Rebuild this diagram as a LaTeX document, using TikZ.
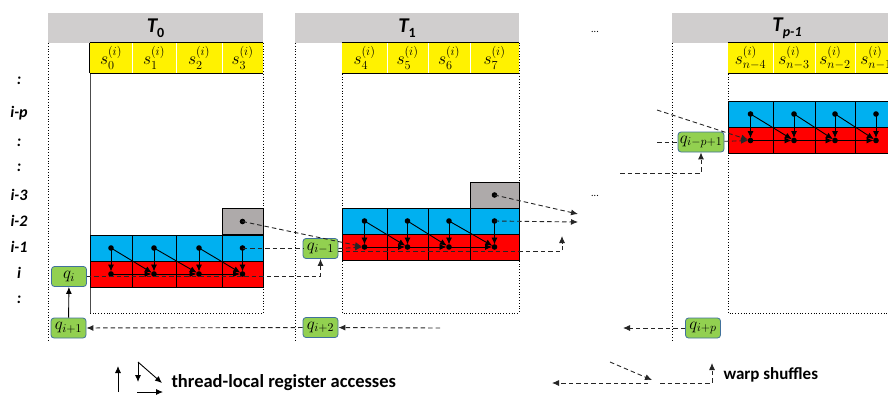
\RequirePackage{fix-cm}
\documentclass[tikz,border=0pt]{standalone}
\usepackage{fontspec}
\setmainfont{Carlito}
\usepackage{amsmath}
\usepackage{tikz}
\usetikzlibrary{
    arrows.meta,
    calc,
    positioning,
}

\definecolor{hdrGray}{RGB}{208,206,206}
\definecolor{cellBlue}{RGB}{0,176,240}
\definecolor{cellRed}{RGB}{255,0,0}
\definecolor{cellGray}{RGB}{174,170,170}
\definecolor{qGreen}{RGB}{146,208,80}
\definecolor{qEdge}{RGB}{65,113,156}

\begin{document}
\begin{tikzpicture}[x=1pt,y=-1pt,>={Latex[length=7pt,width=6pt]}]

    \tikzstyle{cellNode}=[draw=black, line width=0.8pt, inner sep=0pt, minimum height=26pt]
    \tikzstyle{blueCell}=[cellNode, fill=cellBlue]
    \tikzstyle{redCell}=[cellNode, fill=cellRed]
    \tikzstyle{grayCell}=[cellNode, fill=cellGray]
    \tikzstyle{inCell}=[fill=yellow, inner sep=0pt, minimum height=30pt, font=\fontsize{17.5}{19}\selectfont]
    \tikzstyle{header}=[fill=hdrGray, inner sep=0pt, minimum height=30pt, font=\fontsize{21}{24}\selectfont\bfseries\itshape]
    \tikzstyle{regBox}=[rectangle, rounded corners=3pt, fill=qGreen, draw=qEdge, line width=0.8pt, inner sep=1pt, minimum height=20pt, minimum width=35pt, font=\fontsize{17}{19}\selectfont]
    \tikzstyle{rowLabel}=[font=\fontsize{16}{18}\selectfont\bfseries\itshape]
    \tikzstyle{legendText}=[anchor=west, font=\fontsize{17}{20}\selectfont\bfseries]
    \tikzstyle{column}=[dotted, line width=0.8pt]
    \tikzstyle{local}=[->, line width=0.9pt, shorten >=2.5pt]
    \tikzstyle{shuffleLine}=[dash pattern=on 4.5pt off 3pt, line width=0.9pt, black!85]
    \tikzstyle{shuffle}=[shuffleLine, ->]

    \useasboundingbox (0,0) rectangle (888,394);
    \clip (0,0) rectangle (888,394);

    % Thread headers
    \node at (155.5,28) [header, minimum width=215pt] (H0) {T\raisebox{-.45ex}{\normalfont\bfseries\fontsize{14}{16}\selectfont 0}};
    \node at (407,28)   [header, minimum width=224pt] (H1) {T\raisebox{-.45ex}{\normalfont\bfseries\fontsize{14}{16}\selectfont 1}};
    \node at (787,28)   [header, minimum width=230pt] (H2) {T\raisebox{-.45ex}{\fontsize{14}{16}\selectfont p-1}};

    % Row labels
    \foreach \y/\t [count=\n] in {81/:, 113/i-p, 143/:, 168/:, 195/i-3, 221/i-2, 247/i-1, 273/i, 300/:}
        \node at (19,\y) [rowLabel] (row\n) {\t};

    % Columns
    \draw[column] (48,43) -- (48,342);
    \draw[column] (263,43) -- (263,313) -- (90,313);
    \draw[line width=0.8pt, black!70] (90,43) -- (90,313);
    \draw[column] (295,43) -- (295,342);
    \draw[column] (342,43) -- (342,313) -- (519,313) -- (519,43);
    \draw[column] (672,43) -- (672,342);
    \draw[column] (728,43) -- (728,313) -- (892,313);

    % Cells of T0
    \foreach \k/\xa/\xb/\lab in {1/90/132/0, 2/132/176/1, 3/176/222/2, 4/222/263/3}{
        \pgfmathsetmacro\cx{(\xa+\xb)/2}
        \pgfmathsetmacro\cw{\xb-\xa}
        \node at (\cx,58)  [inCell, minimum width=\cw pt]   (S0\k) {$s_{\lab}^{(i)}$};
        \node at (\cx,248) [blueCell, minimum width=\cw pt] (B0\k) {};
        \node at (\cx,274) [redCell, minimum width=\cw pt]  (R0\k) {};
    }
    \node at (242.5,221.5) [grayCell, minimum width=41pt] (G0) {};

    % Cells of T1
    \foreach \k/\xa/\xb/\lab in {1/342/387/4, 2/387/428/5, 3/428/470/6, 4/470/519/7}{
        \pgfmathsetmacro\cx{(\xa+\xb)/2}
        \pgfmathsetmacro\cw{\xb-\xa}
        \node at (\cx,58)  [inCell, minimum width=\cw pt]   (S1\k) {$s_{\lab}^{(i)}$};
        \node at (\cx,221) [blueCell, minimum width=\cw pt] (B1\k) {};
        \node at (\cx,247) [redCell, minimum width=\cw pt]  (R1\k) {};
    }
    \node at (494.5,195) [grayCell, minimum width=49pt] (G1) {};

    % Cells of T_{p-1}
    \foreach \k/\xa/\xb/\lab in {1/728/773/n-4, 2/773/815/n-3, 3/815/855/n-2, 4/855/897/n-1}{
        \pgfmathsetmacro\cx{(\xa+\xb)/2}
        \pgfmathsetmacro\cw{\xb-\xa}
        \node at (\cx,58)  [inCell, minimum width=\cw pt]   (S2\k) {$s_{\lab}^{(i)}$};
        \node at (\cx,114) [blueCell, minimum width=\cw pt] (B2\k) {};
        \node at (\cx,140.5) [redCell, minimum width=\cw pt]  (R2\k) {};
    }

    % Input row borders
    \foreach \b in {0,1,2}{
        \foreach \k in {1,2,3}
            \draw[white, line width=1pt] (S\b\k.north east) -- (S\b\k.south east);
        \draw[line width=0.8pt] (S\b1.north west) -- (S\b4.north east);
        \draw[line width=0.8pt] (S\b1.south west) -- (S\b4.south east);
    }
    \draw[line width=0.8pt] (S01.north west) -- (S01.south west);

    % Thread-local register accesses
    \foreach \b in {0,1,2}{
        \foreach \k in {1,...,4}{
            \fill (B\b\k.center) circle (2.8pt);
            \fill (R\b\k.center) circle (2.8pt);
            \draw[local] (B\b\k.center) -- (R\b\k.center);
        }
        \foreach \k [evaluate=\k as \j using int(\k+1)] in {1,2,3}{
            \draw[local] (B\b\k.center) -- (R\b\j.center);
            \draw[local] (R\b\k.center) -- (R\b\j.center);
        }
    }
    \fill (G0.center) circle (2.8pt);
    \fill (G1.center) circle (2.8pt);

    % Registers q
    \node at (69,276.5)  [regBox] (QI)    {$q_i$};
    \node at (68.5,328)  [regBox] (QIp1)  {$q_{i+1}$};
    \node at (320.5,248.5) [regBox] (QIm1) {$q_{i-1}$};
    \node at (320.5,327.5) [regBox] (QIp2) {$q_{i+2}$};
    \node at (701,142)   [regBox, minimum width=46pt] (QImp1) {$q_{i-p+1}$};
    \node at (703,328)   [regBox] (QIpp)  {$q_{i+p}$};

    % Loose ends of shuffles
    \coordinate (T1up)   at (562,236);
    \coordinate (T1outA) at (578,214);
    \coordinate (T1outB) at (578,222);
    \coordinate (T1in)   at (440,328);
    \coordinate (TpA)    at (657,110);
    \coordinate (TpB)    at (657,142);
    \coordinate (TpC)    at (620,173);
    \coordinate (TpD)    at (623,328);

    % Warp shuffles
    \draw[shuffle, shorten >=2.5pt] (G0.center) -- (R11.center);
    \draw[shuffleLine] (B04.center) -- (B04.center -| QIm1.west);
    \draw[shuffle, shorten >=2.5pt] (QIm1.east) -- (R11.center);
    \draw[shuffle] (QI.east) -| (QIm1.south);
    \draw[shuffle] ([yshift=-3pt]QIm1.east) -| (T1up);
    \draw[shuffle] (G1.center) -- (T1outA);
    \draw[shuffle] (B14.center) -- (T1outB);
    \draw[->, line width=0.9pt] (QIp1) -- (QI);
    \draw[shuffle] (QIp2) -- (QIp1);
    \draw[shuffle] (T1in) -- (QIp2);
    \draw[shuffle, shorten >=2.5pt] (TpA) -- (R21.center);
    \draw[shuffleLine] (TpB) -- (QImp1);
    \draw[shuffle, shorten >=2.5pt] (QImp1) -- (R21.center);
    \draw[shuffle] (TpC) -| (QImp1.south);
    \draw[shuffle] (QIpp) -- (TpD);

    % Ellipses
    \node at (595,32)  (dotsA) {...};
    \node at (595,196) (dotsB) {...};

    % Legend
    \coordinate (la1) at (118,392);
    \coordinate (la2) at (118,366);
    \coordinate (lb1) at (138,362);
    \coordinate (lb2) at (138,382);
    \coordinate (lb3) at (162,383);
    \coordinate (lc1) at (137,392);
    \coordinate (lc2) at (163,392);
    \draw[->, line width=0.9pt] (la1) -- (la2);
    \draw[->, line width=0.9pt] (lb1) -- (lb2);
    \draw[->, line width=0.9pt] (lb1) -- (lb3);
    \draw[->, line width=0.9pt] (lc1) -- (lc2);
    \node at (168,383) [legendText, font=\fontsize{18.5}{21}\selectfont\bfseries] (legLocal) {thread-local register accesses};

    \coordinate (lw1) at (610,362);
    \coordinate (lw2) at (652,380);
    \coordinate (lw3) at (648,383);
    \coordinate (lw4) at (552,383);
    \coordinate (lw5) at (660,383);
    \coordinate (lw6) at (712,363);
    \draw[shuffle] (lw1) -- (lw2);
    \draw[shuffle] (lw3) -- (lw4);
    \draw[shuffle] (lw5) -| (lw6);
    \node at (720,375) [legendText] (legShuffle) {warp shuffles};

\end{tikzpicture}
\end{document}
